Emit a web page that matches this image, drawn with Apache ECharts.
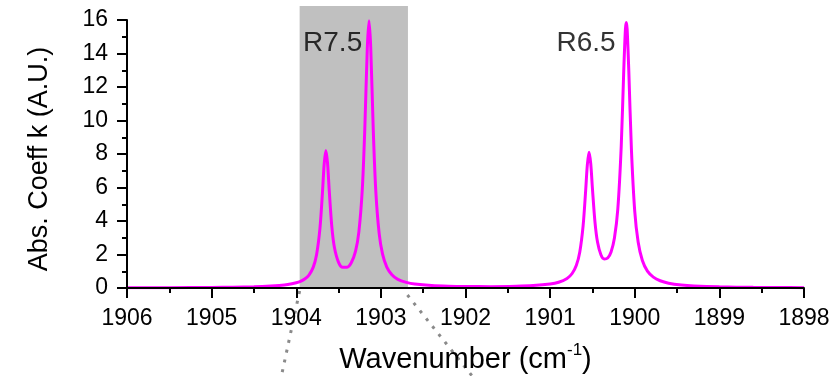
<!DOCTYPE html>
<html>
<head>
<meta charset="utf-8">
<script src="https://cdn.jsdelivr.net/npm/echarts@6/dist/echarts.min.js"></script>
<style>
html,body{margin:0;padding:0;background:#fff;}
#chart{width:835px;height:376px;}
</style>
</head>
<body>
<div id="chart"></div>
<script>
// ---- data ----
const wavenumber = [1906,1905.5,1905,1904.75,1904.5,1904.3,1904.2,1904.1,1904.0,1903.95,1903.9,1903.85,1903.8,1903.76,1903.72,1903.69,1903.67,1903.65,1903.63,1903.61,1903.58,1903.55,1903.5,1903.45,1903.4,1903.35,1903.3,1903.26,1903.22,1903.19,1903.16,1903.14,1903.12,1903.09,1903.06,1903.02,1902.98,1902.93,1902.87,1902.8,1902.7,1902.6,1902.4,1902.2,1902.0,1901.7,1901.4,1901.2,1901.0,1900.9,1900.8,1900.74,1900.69,1900.65,1900.61,1900.58,1900.56,1900.54,1900.52,1900.5,1900.47,1900.44,1900.4,1900.36,1900.32,1900.28,1900.24,1900.2,1900.16,1900.13,1900.11,1900.1,1900.09,1900.07,1900.04,1900.0,1899.96,1899.91,1899.85,1899.78,1899.7,1899.6,1899.45,1899.3,1899.0,1898.6,1898.3,1898.0];
const absCoeff = [0.015,0.022,0.036,0.05,0.075,0.115,0.15,0.206,0.31,0.394,0.534,0.773,1.233,1.981,3.556,5.726,7.40,8.216,7.434,5.794,3.677,2.45,1.532,1.233,1.237,1.504,2.182,3.355,5.859,9.488,14.38,15.96,14.37,9.445,5.788,3.242,2.018,1.251,0.793,0.518,0.337,0.236,0.143,0.103,0.086,0.082,0.103,0.142,0.236,0.343,0.571,0.866,1.357,2.137,3.729,5.822,7.368,8.107,7.424,5.936,3.934,2.742,1.983,1.730,1.790,2.154,2.979,4.723,8.44,12.97,15.47,15.846,15.455,12.93,8.354,4.57,2.741,1.640,1.009,0.647,0.432,0.288,0.179,0.123,0.069,0.040,0.028,0.022];

// shaded window (x range, y range)
const shadeX = [1903.96, 1902.68];
const shadeY = [0, 16.84];
// zoom guide lines (data space)
const guideLeftX = [1903.96, 1904.19];
const guideLeftY = [-0.18, -5.6];
const guideRightX = [1902.686, 1901.867];
const guideRightY = [-0.42, -5.6];

// peak labels
const peakLabels = ['R7.5', 'R6.5'];
const peakLabelX = [1903.57, 1900.575];
const peakLabelY = [14.6, 14.6];

// axes
const xMin = 1898, xMax = 1906, xInterval = 1;
const yMin = 0, yMax = 16, yInterval = 2;

const FONT = 'Liberation Sans, Arial, sans-serif';

const lineData = wavenumber.map((x, i) => [x, absCoeff[i]]);
const labelData = peakLabels.map((t, i) => [peakLabelX[i], peakLabelY[i], t]);

const chart = echarts.init(document.getElementById('chart'), null, {renderer: 'canvas'});
chart.setOption({
  animation: false,
  backgroundColor: '#ffffff',
  grid: {left: 127, right: 31, top: 20, bottom: 88, containLabel: false, outerBoundsMode: 'none'},
  xAxis: {
    type: 'value', inverse: true, min: xMin, max: xMax, interval: xInterval, z: 10,
    name: '{a|Wavenumber (cm}{b|-1}{a|)}',
    nameLocation: 'middle', nameGap: 54,
    nameTextStyle: {
      rich: {
        a: {fontSize: 29, fontFamily: FONT, color: '#000', verticalAlign: 'bottom', lineHeight: 32},
        b: {fontSize: 17, fontFamily: FONT, color: '#000', verticalAlign: 'top', lineHeight: 32}
      }
    },
    axisLine: {show: true, onZero: false, lineStyle: {color: '#000', width: 2}},
    axisTick: {show: true, inside: false, length: 10, lineStyle: {color: '#000', width: 2}},
    minorTick: {show: true, splitNumber: 2, length: 5, lineStyle: {color: '#000', width: 2}},
    splitLine: {show: false},
    minorSplitLine: {show: false},
    axisLabel: {margin: 19, fontSize: 23, fontFamily: FONT, color: '#000', formatter: v => String(v), showMinLabel: true, showMaxLabel: true, hideOverlap: false}
  },
  yAxis: {
    type: 'value', min: yMin, max: yMax, interval: yInterval, z: 10,
    name: 'Abs. Coeff k (A.U.)',
    nameLocation: 'middle', nameGap: 74, nameRotate: 90,
    nameTextStyle: {fontSize: 27, fontFamily: FONT, color: '#000', padding: [0, 10, 0, 0]},
    axisLine: {show: true, onZero: false, lineStyle: {color: '#000', width: 2}},
    axisTick: {show: true, inside: false, length: 10, lineStyle: {color: '#000', width: 2}},
    minorTick: {show: true, splitNumber: 2, length: 5, lineStyle: {color: '#000', width: 2}},
    splitLine: {show: false},
    minorSplitLine: {show: false},
    axisLabel: {margin: 19, fontSize: 23, fontFamily: FONT, color: '#000'}
  },
  series: [
    {
      type: 'custom', z: 1, clip: false, silent: true,
      data: [[shadeX[0], shadeY[0], shadeX[1], shadeY[1]]],
      renderItem: function (params, api) {
        const p0 = api.coord([api.value(0), api.value(1)]);
        const p1 = api.coord([api.value(2), api.value(3)]);
        return {
          type: 'rect',
          shape: {
            x: Math.min(p0[0], p1[0]), y: Math.min(p0[1], p1[1]),
            width: Math.abs(p1[0] - p0[0]), height: Math.abs(p1[1] - p0[1])
          },
          style: {fill: '#c0c0c0'}
        };
      }
    },
    {
      type: 'line', z: 1, clip: false, silent: true,
      data: guideLeftX.map((x, i) => [x, guideLeftY[i]]),
      symbol: 'none',
      lineStyle: {color: '#8a8a8a', width: 3, type: [3, 7], cap: 'butt'}
    },
    {
      type: 'line', z: 1, clip: false, silent: true,
      data: guideRightX.map((x, i) => [x, guideRightY[i]]),
      symbol: 'none',
      lineStyle: {color: '#8a8a8a', width: 3, type: [3, 7], cap: 'butt'}
    },
    {
      type: 'line', z: 5, silent: true,
      data: lineData,
      symbol: 'none', smooth: 0.3,
      lineStyle: {color: '#ff00ff', width: 3}
    },
    {
      type: 'scatter', z: 6, silent: true,
      data: labelData,
      symbolSize: 0,
      label: {show: true, position: 'inside', formatter: p => p.data[2], fontSize: 28, fontFamily: FONT, color: '#000'}
    }
  ]
});
</script>
</body>
</html>
